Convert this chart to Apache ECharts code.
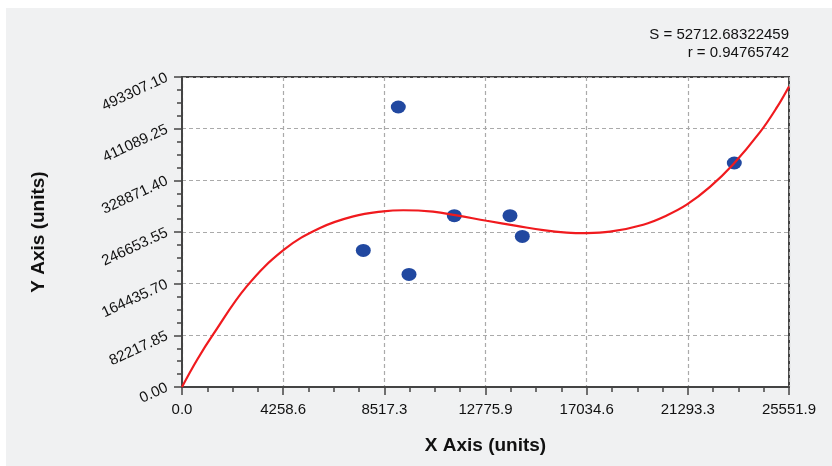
<!DOCTYPE html>
<html>
<head>
<meta charset="utf-8">
<script src="https://cdn.jsdelivr.net/npm/echarts@6/dist/echarts.min.js"></script>
<style>
html,body{margin:0;padding:0;background:#fff;}
#chart{width:832px;height:466px;}
</style>
</head>
<body>
<div id="chart"></div>
<script>
// ---- data ----
var pointX = [9105, 7632, 9556, 11463, 13807, 14325, 23249];
var pointY = [445568, 217371, 179184, 272590, 272590, 239650, 356454];

var curveX = [0, 631, 1318, 2724, 4294, 5809, 7211, 8474, 9316, 10566, 11564, 12826, 14089, 15209, 16194, 17036, 18017, 19418, 20403, 21245, 22226, 23207, 24331, 25034, 25551.9];
var curveY = [0, 43000, 84000, 160085, 218485, 253017, 271500, 279500, 281300, 279000, 273000, 264500, 256500, 249500, 245800, 245000, 247129, 258268, 273000, 290094, 318500, 354500, 405500, 444500, 478345];

var xTickLabels = ['0.0', '4258.6', '8517.3', '12775.9', '17034.6', '21293.3', '25551.9'];
var yTickLabels = ['0.00', '82217.85', '164435.70', '246653.55', '328871.40', '411089.25', '493307.10'];

var xMax = 25551.9, yMax = 493307.1;
var statLines = ['S = 52712.68322459', 'r = 0.94765742'];
var xTitle = 'X Axis (units)', yTitle = 'Y Axis (units)';

// ---- build ----
var xInterval = xMax / (xTickLabels.length - 1);
var yInterval = yMax / (yTickLabels.length - 1);
var FONT = "'Liberation Sans', Arial, sans-serif";

var scatterData = pointX.map(function (x, i) { return [x, pointY[i]]; });
var curveData = curveX.map(function (x, i) { return [x, curveY[i]]; });

var chart = echarts.init(document.getElementById('chart'), null, {renderer: 'canvas'});

var axisCommon = {
  axisLine: {show: true, onZero: false, lineStyle: {color: '#444', width: 2}},
  axisTick: {show: true, inside: false, length: 8, lineStyle: {color: '#444', width: 1.5}},
  minorTick: {show: true, splitNumber: 4, length: 5, lineStyle: {color: '#444', width: 1.5}},
  splitLine: {show: true, lineStyle: {color: '#aaa', type: [4, 3], width: 1.2}},
  minorSplitLine: {show: false}
};

chart.setOption({
  backgroundColor: '#fff',
  animation: false,
  graphic: [
    {type: 'rect', z: -10, silent: true, shape: {x: 6, y: 8, width: 826, height: 458}, style: {fill: '#f0f1f2'}},
    {type: 'text', right: 43, top: 27, z: 10, style: {text: statLines[0], font: '15px ' + FONT, fill: '#111', textAlign: 'right'}},
    {type: 'text', right: 43, top: 45, z: 10, style: {text: statLines[1], font: '15px ' + FONT, fill: '#111', textAlign: 'right'}}
  ],
  grid: {left: 182, top: 77, right: 43, bottom: 79, show: true, backgroundColor: '#fff', borderColor: '#444', borderWidth: 2, containLabel: false},
  xAxis: Object.assign({
    type: 'value', min: 0, max: xMax, interval: xInterval,
    name: xTitle, nameLocation: 'middle', nameGap: 49,
    nameTextStyle: {fontFamily: FONT, fontWeight: 'bold', fontSize: 19, color: '#111'},
    axisLabel: {
      margin: 15, fontFamily: FONT, fontSize: 15, color: '#111',
      formatter: function (v) { return xTickLabels[Math.round(v / xInterval)] || ''; }
    }
  }, axisCommon),
  yAxis: Object.assign({
    type: 'value', min: 0, max: yMax, interval: yInterval,
    name: yTitle, nameLocation: 'middle', nameGap: 134,
    nameTextStyle: {fontFamily: FONT, fontWeight: 'bold', fontSize: 19, color: '#111'},
    axisLabel: {
      margin: 15, rotate: 25, fontFamily: FONT, fontSize: 15, color: '#111',
      formatter: function (v) { return yTickLabels[Math.round(v / yInterval)] || ''; }
    }
  }, axisCommon),
  series: [
    {
      type: 'scatter', data: scatterData, symbol: 'circle', symbolSize: [15, 13],
      itemStyle: {color: '#2148a0', opacity: 1}, z: 2
    },
    {
      type: 'line', data: curveData, smooth: 0.4, showSymbol: false, symbol: 'none',
      lineStyle: {color: '#f01a1e', width: 2.2}, z: 3, clip: true
    }
  ]
});
</script>
</body>
</html>
